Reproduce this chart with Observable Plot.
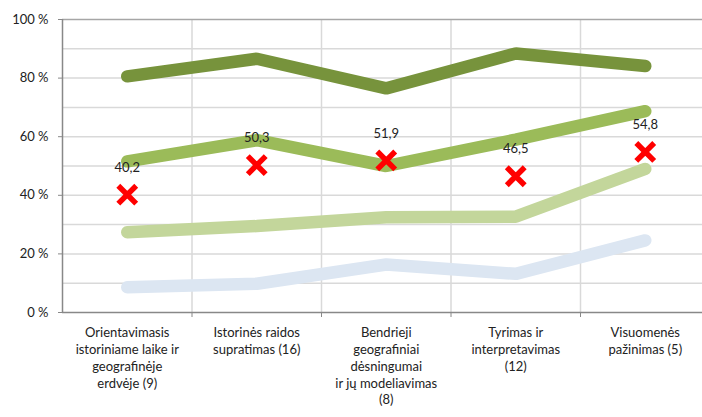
<!DOCTYPE html>
<html>
<head>
<meta charset="utf-8">
<script src="https://cdn.jsdelivr.net/npm/d3@7"></script>
<script src="https://cdn.jsdelivr.net/npm/@observablehq/plot@0.6"></script>
<style>
  html, body { margin: 0; padding: 0; background: #fff; overflow: hidden; }
  #chart svg { overflow: visible; }
</style>
</head>
<body>
<div id="chart"></div>
<script>
const categories = [
  "Orientavimasis\nistoriniame laike ir\ngeografinėje\nerdvėje (9)",
  "Istorinės raidos\nsupratimas (16)",
  "Bendrieji\ngeografiniai\ndėsningumai\nir jų modeliavimas\n(8)",
  "Tyrimas ir\ninterpretavimas\n(12)",
  "Visuomenės\npažinimas (5)"
];
const seriesDark   = [80.6, 86.6, 76.5, 88.4, 84.1];
const seriesMedium = [51.6, 58.8, 50.0, 59.0, 68.7];
const seriesLight  = [27.4, 29.5, 32.5, 32.7, 49.0];
const seriesBlue   = [8.6, 9.8, 16.4, 13.2, 24.6];
const markerValues = [40.2, 50.3, 51.9, 46.5, 54.8];
const markerLabels = ["40,2", "50,3", "51,9", "46,5", "54,8"];
const yTicks = [0, 20, 40, 60, 80, 100];
const yGrid = [10, 20, 30, 40, 50, 60, 70, 80, 90];

const idx = categories.map((_, i) => i);
const boundaries = d3.range(0, categories.length + 1).map(i => i - 0.5);
const inner = boundaries.slice(1, -1);
const toRows = vals => vals.map((v, i) => ({i, v}));

const series = [
  {vals: seriesBlue, color: "#DCE6F2"},
  {vals: seriesLight, color: "#C3D69B"},
  {vals: seriesMedium, color: "#9BBB59"},
  {vals: seriesDark, color: "#77933C"}
];

const font = "Lato, 'Open Sans', sans-serif";

const chart = Plot.plot({
  width: 702,
  height: 417,
  marginLeft: 62,
  marginRight: 0,
  marginTop: 19,
  marginBottom: 105,
  style: {fontFamily: font, fontSize: "13px", color: "#222", background: "#fff"},
  x: {type: "linear", domain: [-0.5, categories.length - 0.5], range: [62, 709.5]},
  y: {domain: [0, 100], range: [312, 19]},
  marks: [
    Plot.ruleY(yGrid, {stroke: "#d9d9d9", strokeWidth: 1.5}),
    Plot.ruleX(inner, {y1: 0, y2: 100, stroke: "#d9d9d9", strokeWidth: 1.5}),
    Plot.ruleY([100], {stroke: "#a6a6a6", strokeWidth: 1.5}),
    Plot.ruleY([0], {stroke: "#888", strokeWidth: 1.5}),
    Plot.ruleX([-0.5], {y1: 0, y2: 100, stroke: "#888", strokeWidth: 1.5}),
    Plot.axisY({ticks: yTicks, tickFormat: d => d + " %", tickSize: 4, tickPadding: 10, stroke: "#888", fontSize: 13, fill: "#222", label: null}),
    Plot.axisX({ticks: boundaries.slice(1), tickFormat: () => "", tickSize: 5, stroke: "#888", label: null}),
    Plot.axisX({ticks: idx, tickFormat: i => categories[i], tickSize: 0, tickPadding: 13, lineHeight: 1.29, fontSize: 13, fill: "#222", label: null}),
    ...series.map(s => Plot.line(toRows(s.vals), {
      x: "i", y: "v", stroke: s.color, strokeWidth: 12.5,
      strokeLinecap: "round", strokeLinejoin: "miter"
    })),
    Plot.dot(toRows(markerValues), {
      x: "i", y: "v", symbol: "times", r: 8.2, stroke: "#FF0000", strokeWidth: 5.5
    }),
    Plot.text(toRows(markerValues), {
      x: "i", y: "v", text: (d) => markerLabels[d.i], dy: -27, fontSize: 13, fill: "#222"
    })
  ]
});
document.getElementById("chart").appendChild(chart);
</script>
</body>
</html>
